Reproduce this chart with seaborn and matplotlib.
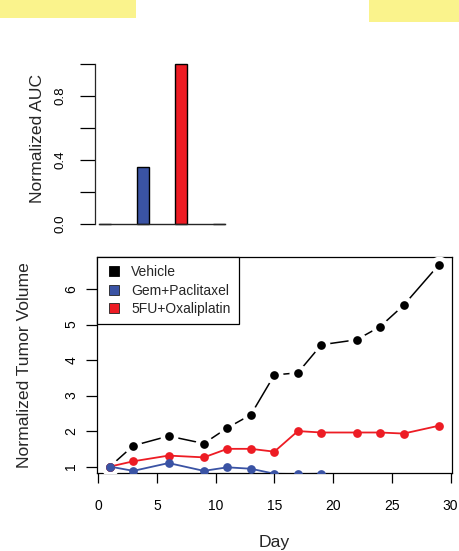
import matplotlib
matplotlib.use("Agg")
import matplotlib.pyplot as plt
from matplotlib.lines import Line2D
from matplotlib.patches import Rectangle
import seaborn as sns
import pandas as pd

sns.set_style("ticks")
plt.rcParams['font.family'] = ['Liberation Sans', 'DejaVu Sans']

# ---------------- data ----------------
bar_groups = ["pad_left", "Gem+Paclitaxel", "5FU+Oxaliplatin", "pad_right"]
bar_values = [0.0, 0.354, 1.0, 0.0]
auc_ticks = [0.0, 0.2, 0.4, 0.6, 0.8, 1.0]
auc_ticklabels = ["0.0", "", "0.4", "", "0.8", ""]

days = [1, 3, 6, 9, 11, 13, 15, 17, 19, 22, 24, 26, 29]
vehicle = [1.0, 1.59, 1.86, 1.65, 2.09, 2.46, 3.58, 3.64, 4.43, 4.57, 4.94, 5.54, 6.68]
fu_oxa = [1.0, 1.15, 1.31, 1.26, 1.50, 1.50, 1.42, 2.00, 1.96, 1.96, 1.96, 1.93, 2.15]
gem_days = [1, 3, 6, 9, 11, 13, 15, 17, 19]
gem_pac = [1.0, 0.88, 1.10, 0.88, 0.98, 0.94, 0.80, 0.79, 0.80]

day_ticks = [0, 5, 10, 15, 20, 25, 30]
vol_ticks = [1, 2, 3, 4, 5, 6]
legend_labels = ["Vehicle", "Gem+Paclitaxel", "5FU+Oxaliplatin"]

BLUE = "#3A53A4"
RED = "#ED1C24"
BLACK = "#000000"
YELLOW = "#FAF38C"

W, H = 459, 551
fig = plt.figure(figsize=(W / 100, H / 100), dpi=100)

# yellow highlight patches at top
fig.patches.append(Rectangle((0, 1 - 17.7 / H), 136 / W, 17.7 / H,
                             transform=fig.transFigure, facecolor=YELLOW, edgecolor='none'))
fig.patches.append(Rectangle((369 / W, 1 - 21.7 / H), 90 / W, 21.7 / H,
                             transform=fig.transFigure, facecolor=YELLOW, edgecolor='none'))

# ---------------- top: bar chart ----------------
ax1 = fig.add_axes([95 / W, 1 - 230.4 / H, 135 / W, 172.8 / H])
bar_df = pd.DataFrame({"group": bar_groups, "auc": bar_values})
sns.barplot(data=bar_df, x="group", y="auc", hue="group",
            palette=[BLUE, BLUE, RED, RED], width=1 / 3, ax=ax1,
            edgecolor="black", linewidth=1.0, legend=False, saturation=1)
ax1.set_xlim(-0.263, 3.29)
ax1.set_ylim(-0.04, 1.04)
for s in ["top", "right"]:
    ax1.spines[s].set_visible(False)
pts = ax1.patches
x0 = min(p.get_x() for p in pts)
x1 = max(p.get_x() + p.get_width() for p in pts)
ax1.spines["bottom"].set_bounds(x0, x1)
ax1.spines["bottom"].set_position(("data", 0))
ax1.spines["bottom"].set_linewidth(1.0)
ax1.spines["left"].set_bounds(0, 1)
ax1.spines["left"].set_linewidth(0.9)
ax1.set_xticks([])
ax1.set_xlabel("")
ax1.set_yticks(auc_ticks)
ax1.set_yticklabels(auc_ticklabels)
ax1.tick_params(axis='y', length=10.8, width=0.9, pad=10, labelsize=9.6, colors='black')
for t in ax1.get_yticklabels():
    t.set_rotation(90)
    t.set_va('center')
ax1.set_ylabel("Normalized AUC", fontsize=12.6)
ax1.yaxis.set_label_coords(-0.37, 0.535)

# ---------------- bottom: tumor volume ----------------
ax2 = fig.add_axes([96.7 / W, 1 - 473 / H, 355.3 / W, 216 / H])
veh_df = pd.DataFrame({"day": days, "vol": vehicle})
red_df = pd.DataFrame({"day": days, "vol": fu_oxa})
blue_df = pd.DataFrame({"day": gem_days, "vol": gem_pac})

# vehicle: R type="b" (line broken around points)
sns.lineplot(data=veh_df, x="day", y="vol", color=BLACK, lw=1.1, ax=ax2, zorder=2)
sns.scatterplot(data=veh_df, x="day", y="vol", color="white", s=18 ** 2 * 0.5184,
                linewidth=0, ax=ax2, zorder=3)
sns.scatterplot(data=veh_df, x="day", y="vol", color=BLACK, s=8.7 ** 2 * 0.5184,
                linewidth=0, ax=ax2, zorder=4)

sns.lineplot(data=red_df, x="day", y="vol", color=RED, lw=1.3, marker="o",
             markersize=6.3, markeredgewidth=0, ax=ax2, zorder=5)
sns.lineplot(data=blue_df, x="day", y="vol", color=BLUE, lw=1.3, marker="o",
             markersize=6.3, markeredgewidth=0, ax=ax2, zorder=6)

ax2.set_xlim(-0.12, 30.12)
ax2.set_ylim(0.82, 6.90)
ax2.set_xticks(day_ticks)
ax2.set_xticklabels([str(d) for d in day_ticks])
ax2.set_yticks(vol_ticks)
ax2.set_yticklabels([str(v) for v in vol_ticks])
for s in ax2.spines.values():
    s.set_visible(True)
    s.set_linewidth(0.9)
    s.set_color("black")
ax2.tick_params(axis='x', length=7.5, width=0.9, pad=11, labelsize=10, colors='black')
ax2.tick_params(axis='y', length=8.2, width=0.9, pad=5, labelsize=10, colors='black')
for t in ax2.get_yticklabels():
    t.set_rotation(90)
    t.set_va('center')
ax2.set_xlabel("Day", fontsize=12.6)
ax2.xaxis.set_label_coords(0.5, -0.285)
ax2.set_ylabel("Normalized Tumor Volume", fontsize=12.6)
ax2.yaxis.set_label_coords(-0.182, 0.5)

handles = [
    Line2D([], [], ls='none', marker='s', markersize=7.2, markerfacecolor=BLACK,
           markeredgecolor=BLACK, markeredgewidth=0.6),
    Line2D([], [], ls='none', marker='s', markersize=7.2, markerfacecolor=BLUE,
           markeredgecolor="#222222", markeredgewidth=0.6),
    Line2D([], [], ls='none', marker='s', markersize=7.2, markerfacecolor=RED,
           markeredgecolor="#222222", markeredgewidth=0.6),
]
leg = ax2.legend(handles, legend_labels, loc="upper left", bbox_to_anchor=(0, 1),
                 borderaxespad=0, fontsize=10, frameon=True, fancybox=False,
                 framealpha=1, edgecolor="black", borderpad=0.6,
                 handlelength=1.3, handletextpad=0.6, labelspacing=0.3)
leg.get_frame().set_linewidth(0.9)
leg.set_zorder(10)

fig.savefig("out.png", dpi=100)
